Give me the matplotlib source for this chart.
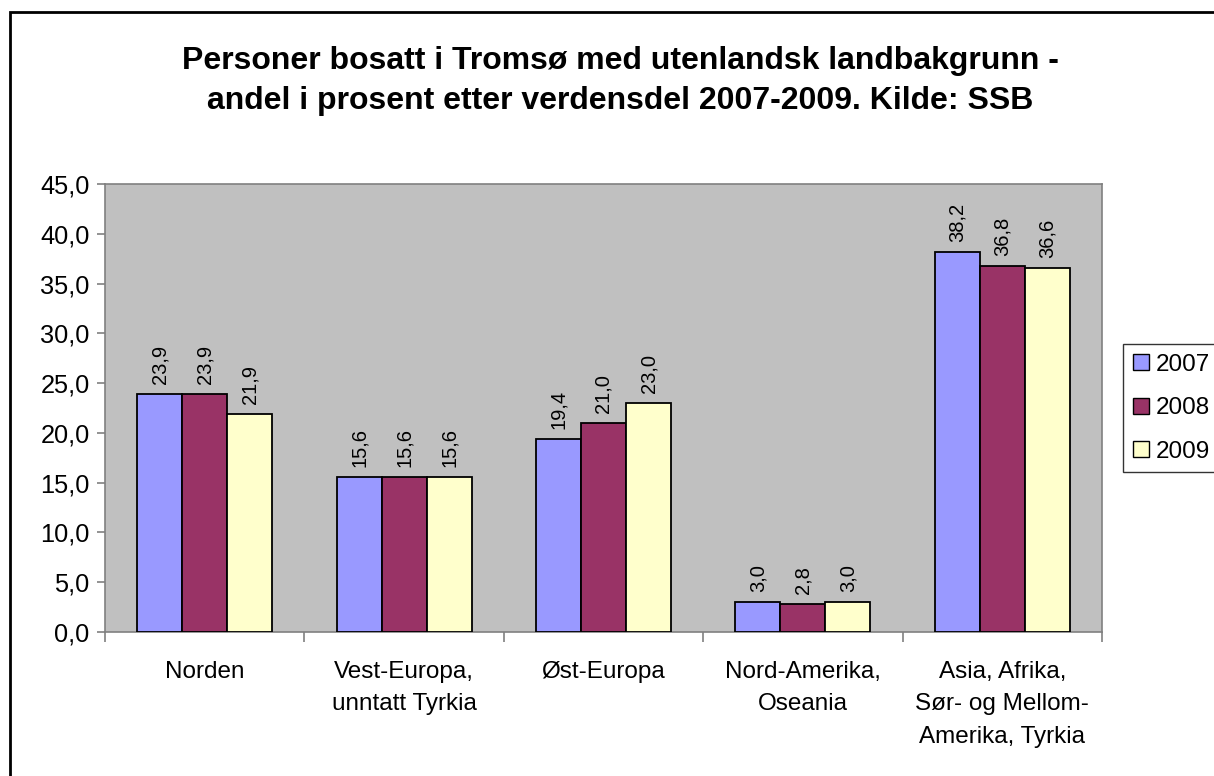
import matplotlib
matplotlib.use("Agg")
import matplotlib.pyplot as plt
from matplotlib.patches import Rectangle
from matplotlib.lines import Line2D
import numpy as np

plt.rcParams['font.family'] = ['Liberation Sans', 'DejaVu Sans']

# Data
categories = ["Norden", "Vest-Europa,\nunntatt Tyrkia", "Øst-Europa",
              "Nord-Amerika,\nOseania", "Asia, Afrika,\nSør- og Mellom-\nAmerika, Tyrkia"]
years = ["2007", "2008", "2009"]
v2007 = [23.9, 15.6, 19.4, 3.0, 38.2]
v2008 = [23.9, 15.6, 21.0, 2.8, 36.8]
v2009 = [21.9, 15.6, 23.0, 3.0, 36.6]
colors = ["#9999FF", "#993366", "#FFFFCC"]

fig = plt.figure(figsize=(12.14, 7.76), dpi=100)
ax = fig.add_axes([105 / 1214, 1 - 632 / 776, 997 / 1214, 448 / 776])
ax.set_facecolor("#C0C0C0")

x = np.arange(len(categories))
w = 0.226
series = [v2007, v2008, v2009]
for i, (vals, c) in enumerate(zip(series, colors)):
    bars = ax.bar(x + (i - 1) * w, vals, w, color=c, edgecolor="black", linewidth=1.3, zorder=3)
    for b, v in zip(bars, vals):
        ax.annotate(f"{v:.1f}".replace(".", ","), (b.get_x() + b.get_width() / 2, v),
                    xytext=(0, 7), textcoords="offset points", rotation=90,
                    ha="center", va="bottom", fontsize=14.5)

ax.set_xlim(-0.5, 4.5)
ax.set_ylim(0, 45)
yt = np.arange(0, 46, 5)
ax.set_yticks(yt)
ax.set_yticklabels([f"{t:.1f}".replace(".", ",") for t in yt], fontsize=18.3)
ax.set_xticks(x)
ax.set_xticklabels(categories, fontsize=17.5, linespacing=1.6, va="top")
ax.set_xticks(np.arange(-0.5, 5, 1), minor=True)
ax.tick_params(axis="x", which="major", length=0, pad=21)
ax.tick_params(axis="x", which="minor", length=7, color="#808080", width=1.2)
ax.tick_params(axis="y", length=6, color="#808080", width=1.2, pad=5)
for s in ax.spines.values():
    s.set_color("#808080")
    s.set_linewidth(1.2)

fig.text(620 / 1214, 1 - 61 / 776, "Personer bosatt i Tromsø med utenlandsk landbakgrunn -",
         ha="center", va="center", fontsize=23, fontweight="bold")
fig.text(620 / 1214, 1 - 101 / 776, "andel i prosent etter verdensdel 2007-2009. Kilde: SSB",
         ha="center", va="center", fontsize=23, fontweight="bold")

handles = [Line2D([], [], marker="s", linestyle="none", markersize=12,
                  markerfacecolor=c, markeredgecolor="black", markeredgewidth=1.0)
           for c in colors]
leg = fig.legend(handles, years, loc="upper left",
                 bbox_to_anchor=(1123 / 1214, 1 - 344 / 776), fontsize=17.5,
                 frameon=True, fancybox=False, handlelength=0.7, handletextpad=0.25,
                 labelspacing=0.88, borderpad=0.4, borderaxespad=0)
leg.get_frame().set_edgecolor("black")
leg.get_frame().set_linewidth(1.0)

fig.patches.append(Rectangle((10 / 1214, -0.05), 1.2, 1 - 12 / 776 + 0.05,
                             transform=fig.transFigure, fill=False,
                             edgecolor="black", linewidth=2))

fig.savefig("out.png", dpi=100)
